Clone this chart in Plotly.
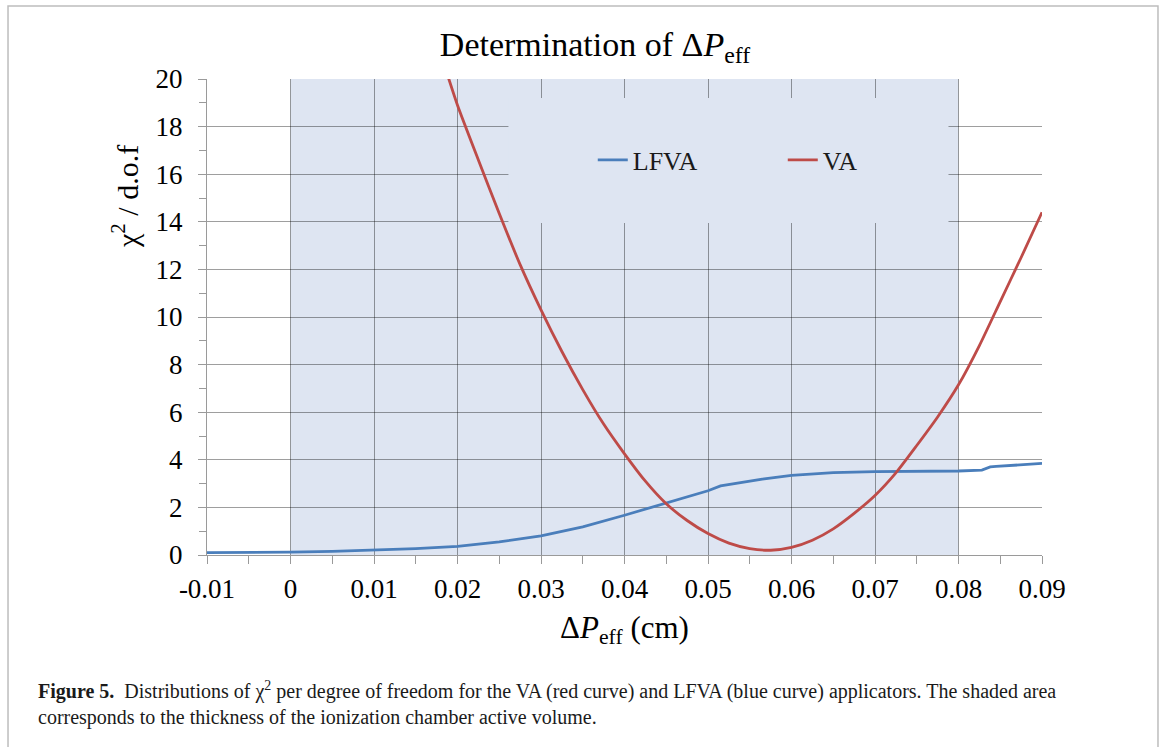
import plotly.graph_objects as go

# ---- data ----
va_x = [0.0185, 0.020, 0.0225, 0.025, 0.0275, 0.030, 0.0325, 0.035, 0.0375, 0.040,
        0.0425, 0.045, 0.0475, 0.050, 0.0525, 0.055, 0.0575, 0.060, 0.0625, 0.065,
        0.0675, 0.070, 0.0725, 0.075, 0.0775, 0.080, 0.0825, 0.085, 0.0875, 0.090]
va_y = [20.5, 18.9, 16.6, 14.35, 12.2, 10.3, 8.55, 6.95, 5.5, 4.25,
        3.1, 2.15, 1.45, 0.9, 0.5, 0.27, 0.2, 0.32, 0.62, 1.1,
        1.75, 2.5, 3.45, 4.6, 5.8, 7.15, 8.8, 10.65, 12.5, 14.4]

lfva_x = [-0.01, -0.005, 0.0, 0.005, 0.01, 0.015, 0.02, 0.025, 0.03, 0.035,
          0.04, 0.045, 0.05, 0.0515, 0.055, 0.0565, 0.06, 0.065, 0.07, 0.075, 0.08,
          0.0828, 0.0838, 0.0845, 0.09]
lfva_y = [0.1, 0.1, 0.12, 0.15, 0.2, 0.27, 0.36, 0.55, 0.8, 1.18,
          1.67, 2.2, 2.7, 2.9, 3.1, 3.19, 3.35, 3.46, 3.5, 3.5, 3.53,
          3.57, 3.7, 3.72, 3.85]

x_tickvals = [-0.01, 0.0, 0.01, 0.02, 0.03, 0.04, 0.05, 0.06, 0.07, 0.08, 0.09]
x_ticktext = ["-0.01", "0", "0.01", "0.02", "0.03", "0.04", "0.05", "0.06", "0.07", "0.08", "0.09"]
y_tickvals = [0, 2, 4, 6, 8, 10, 12, 14, 16, 18, 20]
y_ticktext = [str(v) for v in y_tickvals]

shade_range = [0.0, 0.08]          # ionization chamber active volume

SERIF = "'Liberation Serif', 'Times New Roman', 'DejaVu Serif', serif"
SHADE = "#DEE5F2"
GRID = "rgba(0,0,0,0.38)"

fig = go.Figure()
fig.add_trace(go.Scatter(x=lfva_x, y=lfva_y, mode="lines", name="LFVA",
                         line=dict(color="#4A7EBB", width=2.8)))
fig.add_trace(go.Scatter(x=va_x, y=va_y, mode="lines", name="VA",
                         line=dict(color="#BE4B48", width=2.8, shape="spline", smoothing=0.6)))

# shaded area
fig.add_shape(type="rect", xref="x", yref="y", x0=shade_range[0], x1=shade_range[1],
              y0=0, y1=20, fillcolor=SHADE, line=dict(width=0), layer="below")
# legend box (covers gridlines)
fig.add_shape(type="rect", xref="x", yref="y", x0=0.0261, x1=0.0788,
              y0=13.95, y1=19.2, fillcolor=SHADE, line=dict(width=0), layer="between")
# outer frame
fig.add_shape(type="rect", xref="paper", yref="paper", x0=-0.2383, x1=1.1389,
              y0=-0.45, y1=1.1534, line=dict(color="#BDBDBD", width=1.5), layer="above")

fig.update_layout(
    width=1167, height=747,
    margin=dict(l=207, r=125, t=79, b=192),
    paper_bgcolor="white", plot_bgcolor="white",
    font=dict(family=SERIF, color="black"),
    title=dict(text="Determination of Δ<i>P</i><sub>eff</sub>", xref="container", yref="container",
               x=595 / 1167, xanchor="center", y=1 - 32 / 747, yanchor="top",
               font=dict(family=SERIF, size=34, color="black")),
    showlegend=True,
    legend=dict(orientation="h", x=0.462, y=0.83, xanchor="left", yanchor="middle",
                bgcolor="rgba(0,0,0,0)", font=dict(family=SERIF, size=26, color="#1a1a1a"),
                entrywidth=145, itemwidth=30),
    xaxis=dict(range=[-0.01, 0.09], tickvals=x_tickvals, ticktext=x_ticktext,
               showgrid=True, gridcolor=GRID, gridwidth=1,
               showline=True, linecolor="#9A9A9A", linewidth=1,
               ticks="outside", ticklen=8, tickcolor="#9A9A9A",
               minor=dict(dtick=0.005, tick0=0, ticks="outside", ticklen=8, tickcolor="#9A9A9A", showgrid=False),
               tickfont=dict(family=SERIF, size=27, color="black"),
               ticklabelstandoff=2,
               zeroline=False,
               title=dict(text="Δ<i>P</i><sub>eff</sub> (cm)", font=dict(family=SERIF, size=31, color="black"),
                          standoff=12)),
    yaxis=dict(range=[0, 20], tickvals=y_tickvals, ticktext=y_ticktext,
               showgrid=True, gridcolor=GRID, gridwidth=1,
               showline=True, linecolor="#9A9A9A", linewidth=1,
               ticks="outside", ticklen=8, tickcolor="#9A9A9A",
               minor=dict(dtick=1, tick0=0, ticks="outside", ticklen=7, tickcolor="#9A9A9A", showgrid=False),
               tickfont=dict(family=SERIF, size=27, color="black"),
               ticklabelstandoff=10,
               zeroline=False),
)

# y-axis title (offset toward top as in reference)
fig.add_annotation(text="χ<sup>2</sup> / d.o.f", xref="paper", yref="paper",
                   x=(125 - 207) / 835, y=(555 - 197) / 476, textangle=-90,
                   showarrow=False, xanchor="center", yanchor="middle",
                   font=dict(family=SERIF, size=30, color="black"))

# caption
fig.add_annotation(text="<b>Figure 5.</b>  Distributions of χ<sup>2</sup> per degree of freedom for the VA (red curve) and LFVA (blue curve) applicators. The shaded area<br>corresponds to the thickness of the ionization chamber active volume.",
                   xref="paper", yref="paper", x=(36 - 207) / 835, y=(555 - 676) / 476,
                   xanchor="left", yanchor="top", align="left", showarrow=False,
                   font=dict(family=SERIF, size=20, color="#1a1a1a"))

fig.write_html("out.html")
